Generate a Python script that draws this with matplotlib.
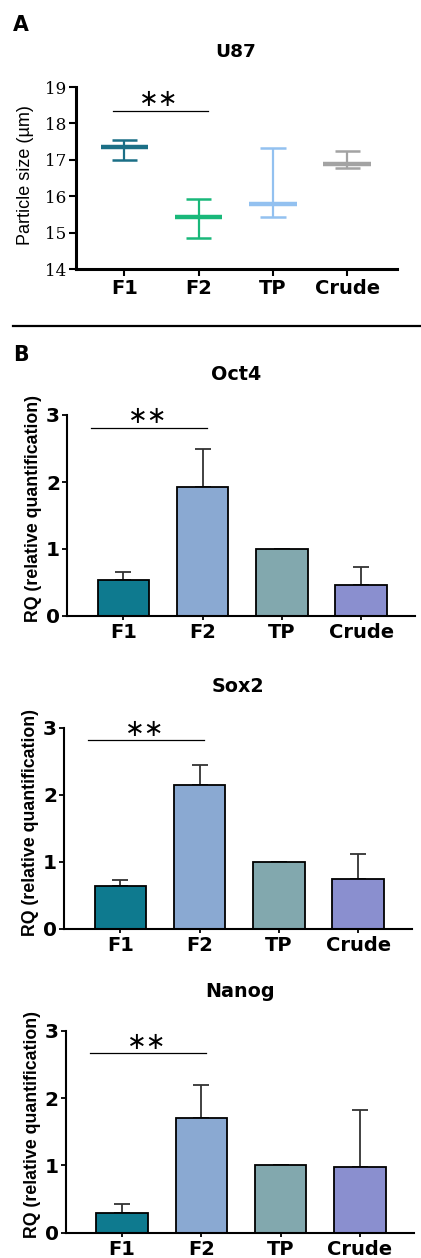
import matplotlib
matplotlib.use("Agg")
import matplotlib.pyplot as plt
import numpy as np

# ---------------- data ----------------
groups = ["F1", "F2", "TP", "Crude"]

# Panel A: U87 particle size (mean, lower, upper)
u87_mean = [17.34, 15.44, 15.79, 16.88]
u87_low = [16.99, 14.84, 15.44, 16.77]
u87_high = [17.54, 15.93, 17.33, 17.24]
u87_colors = ["#1b6f86", "#19b87a", "#93c1f0", "#a3a3a3"]

# Panel B: RQ values and upper errors
oct4_vals = [0.53, 1.93, 1.0, 0.47]
oct4_err = [0.12, 0.57, 0.0, 0.26]
sox2_vals = [0.64, 2.14, 1.0, 0.74]
sox2_err = [0.08, 0.30, 0.0, 0.38]
nanog_vals = [0.30, 1.71, 1.0, 0.98]
nanog_err = [0.13, 0.48, 0.0, 0.84]
bar_colors = ["#0e7a8f", "#8aa9d2", "#82a8ae", "#8a8fcf"]

W, H = 421, 1258
fig = plt.figure(figsize=(W / 100, H / 100), dpi=100)

SANS = "Liberation Sans"
WIDE = "DejaVu Sans"

def fbox(l, r, t, b):
    return [l / W, 1 - b / H, (r - l) / W, (b - t) / H]

x = np.arange(len(groups))

# ---------------- Panel A ----------------
axA = fig.add_axes(fbox(76, 397, 87, 269))
axA.set_xlim(-0.65, 3.67)
axA.set_ylim(14, 19)
for i in range(len(groups)):
    c = u87_colors[i]
    axA.vlines(x[i], u87_low[i], u87_high[i], color=c, lw=1.6, zorder=2)
    axA.hlines([u87_low[i], u87_high[i]], x[i] - 0.17, x[i] + 0.17, color=c, lw=1.8, zorder=2)
    axA.hlines(u87_mean[i], x[i] - 0.32, x[i] + 0.32, color=c, lw=3.2, zorder=3)
axA.spines["top"].set_visible(False)
axA.spines["right"].set_visible(False)
axA.spines["left"].set_linewidth(2.2)
axA.spines["bottom"].set_linewidth(2.2)
axA.set_yticks([14, 15, 16, 17, 18, 19])
axA.set_yticklabels(["14", "15", "16", "17", "18", "19"], fontfamily="DejaVu Serif", fontsize=12.2)
axA.set_xticks(x)
axA.set_xticklabels(groups, fontfamily=WIDE, fontweight="bold", fontsize=14)
axA.tick_params(axis="y", length=5, width=1.5, pad=2)
axA.tick_params(axis="x", length=5, width=1.5, pad=2)
axA.plot([-0.15, 1.12], [18.34, 18.34], color="black", lw=0.9)
axA.text(0.47, 18.68, "∗∗", ha="center", va="center", fontsize=17, fontfamily="DejaVu Sans")
fig.text(236 / W, 1 - 52 / H, "U87", ha="center", va="center", fontfamily=WIDE, fontweight="bold", fontsize=13.3)
fig.text(25 / W, 1 - 175 / H, "Particle size (µm)", ha="center", va="center", rotation=90,
         fontfamily=SANS, fontsize=13)
fig.text(21 / W, 1 - 25 / H, "A", ha="center", va="center", fontfamily=WIDE, fontweight="bold", fontsize=14.8)

# separator
fig.add_artist(plt.Line2D([13 / W, 1.0], [1 - 326 / H, 1 - 326 / H], color="black", lw=1.6))
fig.text(21 / W, 1 - 355 / H, "B", ha="center", va="center", fontfamily=WIDE, fontweight="bold", fontsize=14.8)

# ---------------- Panel B ----------------
panels = [
    ("Oct4", oct4_vals, oct4_err, (67, 415, 415, 616), 375, 236, 509, 33.5, 2.81),
    ("Sox2", sox2_vals, sox2_err, (64, 412, 727.7, 928.7), 687, 238, 822, 30.5, 2.81),
    ("Nanog", nanog_vals, nanog_err, (65.7, 414, 1031, 1232.7), 991.7, 240, 1124, 33, 2.67),
]

for title, vals, errs, (l, r, t, b), ty, tx, ly, lx, sig in panels:
    ax = fig.add_axes(fbox(l, r, t, b))
    ax.set_xlim(-0.71, 3.68)
    ax.set_ylim(0, 3)
    ax.bar(x, vals, width=0.65, color=bar_colors, edgecolor="black", linewidth=1.3, zorder=2)
    ax.errorbar(x, vals, yerr=[np.zeros(len(vals)), errs], fmt="none", ecolor="#333333",
                elinewidth=1.3, capsize=5.5, capthick=1.3, zorder=1)
    ax.spines["top"].set_visible(False)
    ax.spines["right"].set_visible(False)
    ax.spines["left"].set_linewidth(1.5)
    ax.spines["bottom"].set_linewidth(1.5)
    ax.set_yticks([0, 1, 2, 3])
    ax.set_yticklabels(["0", "1", "2", "3"], fontfamily=WIDE, fontweight="bold", fontsize=14.5)
    ax.set_xticks(x)
    ax.set_xticklabels(groups, fontfamily=WIDE, fontweight="bold", fontsize=14)
    ax.tick_params(axis="y", length=3.5, width=1.3, pad=1.5)
    ax.tick_params(axis="x", length=3, width=1.3, pad=2)
    ax.plot([-0.41, 1.06], [sig, sig], color="black", lw=0.9, clip_on=False)
    ax.text(0.31, sig + 0.17, "∗∗", ha="center", va="center", fontsize=17, fontfamily="DejaVu Sans")
    fig.text(tx / W, 1 - ty / H, title, ha="center", va="center", fontfamily=WIDE,
             fontweight="bold", fontsize=13.8)
    fig.text(lx / W, 1 - ly / H, "RQ (relative quantification)", ha="center", va="center",
             rotation=90, fontfamily=SANS, fontweight="bold", fontsize=12.8)

fig.savefig("out.png", dpi=100)
